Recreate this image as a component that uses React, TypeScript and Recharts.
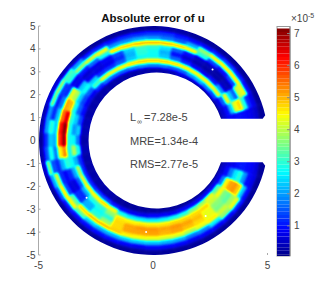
import React from 'react'
import { ScatterChart, Scatter, XAxis, YAxis, BarChart, Bar } from 'recharts'

// polar sampling of the error field, inner ring first (units of 1e-5)
const ringRadii = [3.1, 3.3, 3.5, 3.7, 3.9, 4.1, 4.3, 4.5, 4.7, 4.9]
const arcAngles = [
  15, 22.5, 30, 37.5, 45, 52.5, 60, 67.5, 75, 82.5, 90, 97.5, 105, 112.5, 120,
  127.5, 135, 142.5, 150, 157.5, 165, 172.5, 180, 187.5, 195, 202.5, 210, 217.5,
  225, 232.5, 240, 247.5, 255, 262.5, 270, 277.5, 285, 292.5, 300, 307.5, 315,
  322.5, 330, 337.5, 345,
]
const errorRows = [
  [.2, .6, .9, .9, 1, 1, .9, .8, .6, .2],
  [.2, .6, 1, 2.4, 4.4, 4.8, 3, 1.2, .8, .2],
  [.2, .7, 1.6, 4.4, 2.4, 1.6, 4.2, 4.4, 1, .2],
  [.3, 1.4, 4.4, 2, .5, .4, 1.4, 4.7, 1.2, .2],
  [.3, 1.8, 4.6, 1.1, .3, .3, 1, 4.7, 1.4, .2],
  [.4, 2.2, 4.6, .8, .3, .4, 1.4, 4.6, 1.2, .2],
  [.5, 2, 4.6, .9, .4, .5, 3, 3.8, 1, .2],
  [.6, 1.6, 4.7, 1.2, .6, 1, 4.6, 2.2, 1, .2],
  [.4, 1.6, 4.8, 1.7, 1, 1.6, 4.9, 1.6, 1.1, .3],
  [.3, 1.8, 4.9, 2.4, 2.2, 2.6, 5, 1.8, 1.3, .3],
  [.3, 1.8, 4.9, 2.8, 2.8, 3, 5, 2, 1.3, .2],
  [.3, 1.9, 4.9, 2.8, 3, 3.1, 5, 2.1, 1.2, .2],
  [.3, 1.8, 4.8, 2.4, 2.2, 2.4, 4.9, 2, 1.2, .2],
  [.3, 1.6, 4.6, 1.6, 1.2, 1.4, 4.8, 2, 1.1, .2],
  [.3, 1.6, 4.5, 1.3, .8, .9, 2.8, 4.5, 1.2, .2],
  [.3, 1.7, 4.4, 1.3, .7, .7, 1.7, 4.3, 1.2, .2],
  [.3, 1.2, 3.2, 2.4, .8, .6, 1.1, 3.8, 2, .3],
  [.3, .8, 1.6, 2.8, 2.4, .8, .8, 3, 3.2, .4],
  [.3, .8, 1.4, 2.4, 4, 4.4, 1.2, 1.3, 3.8, .6],
  [.3, 1, 1.6, 2.8, 5, 5.2, 1.8, 1.1, 3.6, .6],
  [.4, 1.4, 2.4, 3, 6.6, 5.6, 2.4, 1.2, 2, .4],
  [.4, 2.4, 2, 3, 7.3, 6.2, 2.4, 3, 2, .3],
  [.3, 1.8, 2.8, 2.8, 7.1, 6, 2.2, 2.4, 1.2, .2],
  [.4, 2.8, 4, 2.8, 5.4, 4.6, 1.8, 2.9, 1.5, .3],
  [.3, 1.2, 2.2, 2.8, 3, 2.2, 1.2, 1.5, 3.6, .5],
  [.3, 1.2, 4, 2.2, 1.2, .9, 1.2, 4.2, 2.2, .3],
  [.3, 1.2, 4.4, 1.6, .7, .7, 1.4, 4.7, 1.6, .2],
  [.3, 1.2, 4.6, 2.2, 1.2, 1.2, 3.4, 4.6, 1.1, .2],
  [.3, 1.4, 4.6, 3, 2.2, 2.2, 4.8, 3.4, 1, .2],
  [.3, 1.4, 4.8, 3, 2.8, 3, 5, 2.4, 1, .2],
  [.2, 1.1, 4.5, 3.7, 3, 3.8, 5, 2.2, 1, .2],
  [.2, .9, 2.8, 4.7, 4.8, 4.8, 4.9, 2.2, 1, .2],
  [.2, .8, 2.6, 4.6, 5.2, 5.2, 4.6, 2.3, .9, .2],
  [.2, .8, 2.6, 4.7, 5.3, 5.2, 4.5, 2.3, .8, .2],
  [.2, .9, 2.6, 4.7, 5.3, 5.2, 4.4, 2.3, .9, .2],
  [.2, .9, 2.7, 4.7, 5.2, 5.1, 4.3, 2.2, .9, .2],
  [.2, .8, 2.8, 4.8, 5.3, 5.2, 4.3, 2.1, .9, .2],
  [.2, .9, 3, 4.8, 5.2, 5, 4, 1.8, .8, .2],
  [.2, .9, 3.6, 4.8, 5, 4.8, 4.4, 1.9, .9, .2],
  [.2, .9, 3.9, 4.8, 4.4, 4.4, 4.6, 2.6, .9, .2],
  [.2, .9, 4.4, 4.2, 3.7, 3.6, 4.2, 3.8, 1, .2],
  [.2, .8, 3.4, 4.5, 3.6, 3.4, 3.9, 4.4, 1.2, .2],
  [.2, .7, 1.8, 4.6, 5.2, 5.3, 4.9, 2.4, 1, .2],
  [.2, .6, 1, 1.8, 2.6, 3, 2, 1, .8, .2],
  [.2, .5, .7, .8, 1, 1.1, 1, .9, .7, .2],
]

const xTicks = [-5, 0, 5]
const yTicks = [-5, -4, -3, -2, -1, 0, 1, 2, 3, 4, 5]
const barTicks = [1, 2, 3, 4, 5, 6, 7]
const BAR_MIN = 0.06
const BAR_MAX = 7.22
const BAR_LEVELS = 64

// plot box in pixels
const PLOT = { left: 38.5, top: 26, width: 229, height: 229 }
const PX = PLOT.width / 10
const RING_STEP = 0.2
const ARC_STEP = 7.5

const toRad = (deg: number) => (deg * Math.PI) / 180
const clamp = (v: number) => Math.max(0, Math.min(1, v))
const jet = (t: number) => [
  clamp(1.5 - Math.abs(4 * t - 3)),
  clamp(1.5 - Math.abs(4 * t - 2)),
  clamp(1.5 - Math.abs(4 * t - 1)),
]
const jetHex = (t: number) => {
  const [r, g, b] = jet(t).map(c => Math.round(c * 255))
  return `rgb(${r},${g},${b})`
}
const levels = Array.from({ length: BAR_LEVELS }, (_, i) => (i + 0.5) / BAR_LEVELS)
const tableFor = (ch: number) => levels.map(t => jet(t)[ch].toFixed(3)).join(' ')

const cells = errorRows.flatMap((row, a) =>
  row.map((v, k) => {
    const deg = arcAngles[a]
    const r = ringRadii[k]
    return { x: r * Math.cos(toRad(deg)), y: r * Math.sin(toRad(deg)), v, r, deg, a, k }
  })
)

// one polar cell; grey level carries the value, the filter turns it into jet
function PolarCell(props: any) {
  const { cx, cy, payload } = props
  const { r, deg, v, a, k } = payload
  const r0 = k === 0 ? r - 0.6 : r - RING_STEP / 2
  const r1 = k === ringRadii.length - 1 ? r + 0.6 : r + RING_STEP / 2
  const a0 = a === 0 ? deg - 14 : deg - ARC_STEP / 2
  const a1 = a === arcAngles.length - 1 ? deg + 14 : deg + ARC_STEP / 2
  const corner = (rr: number, d: number) => {
    const dx = (rr * Math.cos(toRad(d)) - r * Math.cos(toRad(deg))) * PX
    const dy = (rr * Math.sin(toRad(d)) - r * Math.sin(toRad(deg))) * PX
    return `${(cx + dx).toFixed(2)},${(cy - dy).toFixed(2)}`
  }
  const pts = [corner(r0, a0), corner(r1, a0), corner(r1, a1), corner(r0, a1)].join(' ')
  const g = Math.round(clamp((v - BAR_MIN) / (BAR_MAX - BAR_MIN)) * 255)
  const fill = `rgb(${g},${g},${g})`
  return <polygon points={pts} fill={fill} stroke={fill} strokeWidth={0.6} />
}

const px = (x: number) => PLOT.left + ((x + 5) / 10) * PLOT.width
const py = (y: number) => PLOT.top + ((5 - y) / 10) * PLOT.height
const R_OUT = 5
const R_IN = 2.97
// mesh holes seen in the reference
const holes = [[-2.9, -2.5], [-0.3, -4], [2.3, -3.3], [2.6, 3.1]]
const holePaths = holes.map(([x, y]) => `M${px(x) - 1},${py(y)} a1,1 0 1,0 2,0 a1,1 0 1,0 -2,0`)
const domainPath = [
  `M${px(2.97)},${py(0.95)}`,
  `L${px(4.79)},${py(0.95)}`,
  `L${px(4.9)},${py(1.1)}`,
  `A${R_OUT * PX},${R_OUT * PX} 0 1 0 ${px(4.9)},${py(-1.1)}`,
  `L${px(4.79)},${py(-0.95)}`,
  `L${px(2.97)},${py(-0.95)}`,
  `A${R_IN * PX},${R_IN * PX} 0 1 1 ${px(2.97)},${py(0.95)}`,
  'Z',
  ...holePaths,
].join(' ')

const barRow: Record<string, number | string> = { name: 'c' }
levels.forEach((_, i) => {
  barRow[`l${i}`] = (BAR_MAX - BAR_MIN) / BAR_LEVELS
})

const TEXT = '#444'
const AXIS = '#aaa'
const FONT = '"Liberation Sans", Arial, sans-serif'

export default function App() {
  return (
    <div style={{ position: 'absolute', left: 0, top: 0, width: 332, height: 293, fontFamily: FONT }}>
      <style>{`.field .recharts-scatter { filter: url(#jetBlur); clip-path: url(#domainClip); }`}</style>
      <svg width={0} height={0} style={{ position: 'absolute' }}>
        <defs>
          <filter id="jetBlur" filterUnits="userSpaceOnUse" x={0} y={0} width={332} height={293} colorInterpolationFilters="sRGB">
            <feGaussianBlur stdDeviation={1.2} />
            <feComponentTransfer>
              <feFuncR type="table" tableValues={tableFor(0)} />
              <feFuncG type="table" tableValues={tableFor(1)} />
              <feFuncB type="table" tableValues={tableFor(2)} />
            </feComponentTransfer>
          </filter>
          <clipPath id="domainClip">
            <path d={domainPath} clipRule="evenodd" />
          </clipPath>
        </defs>
      </svg>

      <div className="field" style={{ position: 'absolute', left: 0, top: 0 }}>
        <ScatterChart width={332} height={293} margin={{ top: 26, right: 64.5, bottom: 0, left: 0 }}>
          <XAxis
            type="number" dataKey="x" domain={[-5, 5]} ticks={xTicks} height={38}
            axisLine={false} tickSize={-2} tickMargin={9} interval={0}
            stroke={AXIS} tick={{ fontSize: 10, fill: TEXT }}
          />
          <YAxis
            type="number" dataKey="y" domain={[-5, 5]} ticks={yTicks} width={38.5}
            tickSize={-2} tickMargin={5} interval={0}
            stroke={AXIS} tick={{ fontSize: 10, fill: TEXT }}
          />
          <Scatter data={cells} shape={PolarCell} isAnimationActive={false} />
          <text x={153} y={22} textAnchor="middle" fontSize={11.5} fontWeight="bold" fill="#111">
            Absolute error of u
          </text>
          <text x={130} y={121} fontSize={11} fill={TEXT}>L</text>
          <text x={137} y={124} fontSize={7} fill={TEXT}>∞</text>
          <text x={144} y={121} fontSize={11} fill={TEXT}>=7.28e-5</text>
          <text x={130} y={145} fontSize={11} fill={TEXT}>MRE=1.34e-4</text>
          <text x={130} y={168} fontSize={11} fill={TEXT}>RMS=2.77e-5</text>
        </ScatterChart>
      </div>

      <div style={{ position: 'absolute', left: 270, top: 0 }}>
        <BarChart
          width={62} height={293} data={[barRow]} barCategoryGap={0} stackOffset="none"
          margin={{ top: 26.5, right: 0, bottom: 37, left: 7 }}
        >
          <XAxis dataKey="name" hide />
          <YAxis
            orientation="right" type="number" domain={[BAR_MIN, BAR_MAX]} ticks={barTicks} width={42}
            allowDataOverflow tickSize={-3} tickMargin={7} interval={0}
            stroke="#888" tick={{ fontSize: 10, fill: TEXT }}
          />
          {levels.map((t, i) => (
            <Bar key={i} dataKey={`l${i}`} stackId="c" fill={jetHex(t)} isAnimationActive={false} />
          ))}
          <rect x={7} y={26.5} width={13} height={229.5} fill="none" stroke="#999" />
          <text x={21} y={22} fontSize={10} fill={TEXT}>×10</text>
          <text x={38} y={18} fontSize={7} fill={TEXT}>-5</text>
        </BarChart>
      </div>
    </div>
  )
}
